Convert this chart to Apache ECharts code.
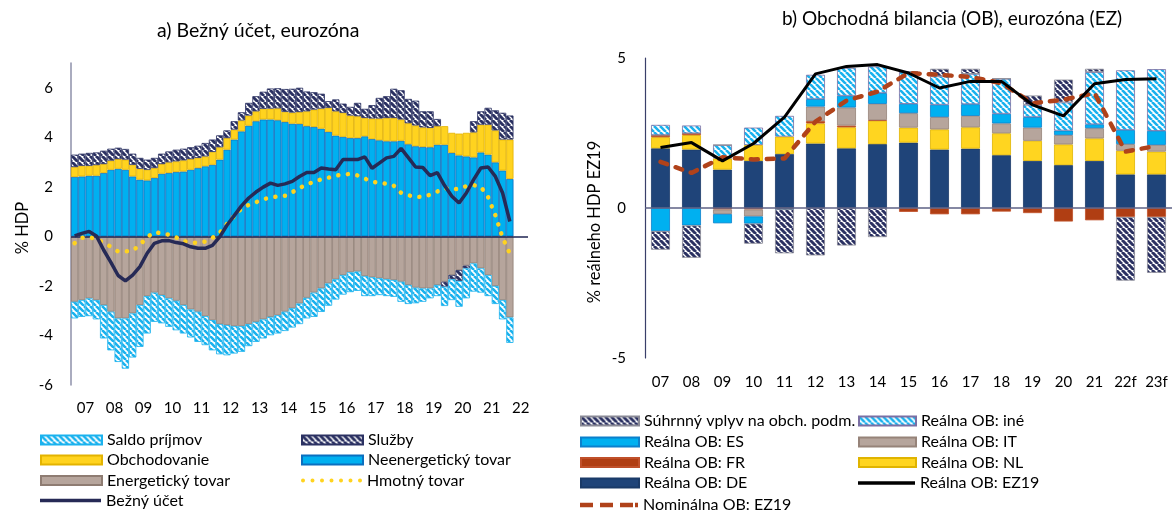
<!DOCTYPE html>
<html>
<head>
<meta charset="utf-8">
<script src="https://cdn.jsdelivr.net/npm/echarts@6/dist/echarts.min.js"></script>
<style>
  html, body { margin: 0; padding: 0; background: #fff; }
  #chart { width: 1172px; height: 510px; }
</style>
</head>
<body>
<div id="chart"></div>
<script>
// a) quarterly data 2007Q1 - 2022Q1, % HDP
const yearLabels = ['07', '08', '09', '10', '11', '12', '13', '14', '15', '16', '17', '18', '19', '20', '21', '22']
const neenerg = [2.40, 2.42, 2.45, 2.45, 2.56, 2.69, 2.73, 2.69, 2.42, 2.29, 2.26, 2.36, 2.53, 2.56, 2.60, 2.62, 2.69, 2.76, 2.83, 2.89,
  3.10, 3.50, 3.91, 4.24, 4.47, 4.65, 4.72, 4.72, 4.69, 4.62, 4.55, 4.54, 4.45, 4.42, 4.35, 4.22, 4.07, 4.02, 3.97, 3.97,
  4.04, 3.93, 3.88, 3.84, 3.84, 3.86, 3.72, 3.64, 3.61, 3.60, 3.70, 3.70, 3.37, 3.27, 3.23, 3.19, 3.39, 3.30, 2.99, 2.66, 2.32]
const obchod = [0.40, 0.43, 0.40, 0.43, 0.36, 0.37, 0.39, 0.41, 0.47, 0.44, 0.43, 0.40, 0.39, 0.43, 0.43, 0.45, 0.43, 0.41, 0.40, 0.52,
  0.50, 0.47, 0.40, 0.44, 0.41, 0.40, 0.43, 0.44, 0.48, 0.41, 0.45, 0.48, 0.60, 0.70, 0.81, 0.97, 0.98, 0.97, 0.91, 0.88,
  0.74, 0.83, 0.88, 0.94, 0.94, 0.86, 0.85, 0.84, 0.79, 0.78, 0.75, 0.75, 0.81, 0.88, 0.95, 1.01, 1.12, 1.21, 1.29, 1.25, 1.59]
const sluzby = [0.50, 0.49, 0.52, 0.51, 0.54, 0.48, 0.46, 0.43, 0.45, 0.44, 0.41, 0.41, 0.42, 0.44, 0.47, 0.47, 0.48, 0.49, 0.54, 0.50,
  0.48, 0.31, 0.34, 0.33, 0.51, 0.61, 0.69, 0.81, 0.81, 0.92, 0.96, 0.98, 0.80, 0.70, 0.60, 0.27, 0.48, 0.37, 0.35, 0.54,
  0.37, 0.54, 0.83, 0.88, 1.18, 1.18, 0.98, 1.00, 0.65, 0.67, 0.29, -0.20, -0.17, -0.44, -0.11, 0.45, 0.54, 0.68, 0.81, 1.08, 0.97]
const energ = [-2.64, -2.57, -2.50, -2.57, -2.77, -3.04, -3.31, -3.31, -3.11, -2.77, -2.41, -2.27, -2.37, -2.50, -2.60, -2.77, -2.95, -3.04, -3.22, -3.38,
  -3.54, -3.58, -3.62, -3.62, -3.54, -3.45, -3.35, -3.25, -3.18, -3.04, -2.90, -2.71, -2.48, -2.27, -2.10, -1.90, -1.73, -1.56, -1.45, -1.42,
  -1.60, -1.65, -1.69, -1.73, -1.76, -1.83, -1.96, -2.07, -2.10, -2.10, -1.96, -1.83, -1.56, -1.36, -1.18, -1.09, -1.29, -1.56, -2.00, -2.57, -3.27]
const saldo = [-0.67, -0.68, -0.72, -0.78, -1.35, -1.56, -1.76, -2.03, -1.78, -1.69, -1.51, -1.18, -1.14, -1.15, -1.19, -1.15, -1.13, -1.22, -1.17, -1.22,
  -1.22, -1.22, -1.11, -1.04, -0.89, -0.81, -0.77, -0.74, -0.74, -0.78, -0.78, -0.83, -0.83, -0.98, -0.95, -0.90, -0.82, -0.79, -0.80, -0.78,
  -0.81, -0.76, -0.68, -0.68, -0.68, -0.81, -0.77, -0.63, -0.54, -0.40, -0.45, -0.78, -0.84, -1.04, -1.21, -1.14, -0.98, -0.85, -0.73, -0.78, -1.03]
const hmotny = [-0.27, -0.06, -0.02, -0.12, -0.25, -0.42, -0.61, -0.61, -0.58, -0.34, -0.03, 0.17, 0.12, 0.07, -0.04, -0.19, -0.25, -0.26, -0.21, -0.06,
  0.15, 0.50, 0.82, 1.12, 1.27, 1.38, 1.50, 1.57, 1.61, 1.64, 1.78, 1.96, 2.08, 2.22, 2.30, 2.37, 2.45, 2.50, 2.52, 2.46,
  2.33, 2.21, 2.16, 2.13, 2.04, 1.76, 1.66, 1.59, 1.60, 1.68, 1.81, 1.94, 1.90, 1.92, 2.03, 2.07, 2.00, 1.58, 0.85, -0.05, -0.70]
const bezny = [0.02, 0.12, 0.20, 0.02, -0.55, -1.05, -1.58, -1.80, -1.56, -1.22, -0.68, -0.28, -0.18, -0.17, -0.25, -0.30, -0.42, -0.48, -0.48, -0.36,
  -0.02, 0.45, 0.84, 1.23, 1.55, 1.79, 1.99, 2.15, 2.06, 2.12, 2.22, 2.42, 2.58, 2.58, 2.76, 2.72, 2.69, 3.10, 3.10, 3.10,
  3.21, 2.75, 2.96, 3.17, 3.23, 3.55, 3.18, 2.80, 2.78, 2.45, 2.57, 2.05, 1.62, 1.35, 1.75, 2.29, 2.76, 2.80, 2.42, 1.75, 0.60]

// b) annual data, % realneho HDP EZ19
const years = ['07', '08', '09', '10', '11', '12', '13', '14', '15', '16', '17', '18', '19', '20', '21', '22f', '23f']
const obDE = [1.99, 1.95, 1.28, 1.57, 1.80, 2.15, 1.99, 2.13, 2.18, 1.95, 1.98, 1.76, 1.57, 1.43, 1.57, 1.12, 1.12]
const obNL = [0.37, 0.48, 0.37, 0.53, 0.58, 0.67, 0.70, 0.78, 0.50, 0.67, 0.71, 0.73, 0.67, 0.69, 0.75, 0.79, 0.76]
const obFR = [0.07, 0.06, -0.05, -0.05, -0.04, 0.08, 0.06, 0.02, -0.13, -0.21, -0.21, -0.12, -0.17, -0.45, -0.41, -0.30, -0.30]
const obIT = [0, 0, -0.15, -0.23, 0, 0.48, 0.60, 0.54, 0.48, 0.41, 0.38, 0.33, 0.44, 0.31, 0.34, 0.22, 0.22]
const obES = [-0.77, -0.58, -0.31, -0.24, 0, 0.25, 0.39, 0.36, 0.31, 0.41, 0.39, 0.32, 0.35, 0.15, 0.13, 0.47, 0.47]
const obIne = [0.34, 0.26, 0.45, 0.58, 0.69, 0.81, 0.93, 0.89, 1.08, 0.95, 1.01, 1.17, 0.41, 0.94, 1.74, 1.99, 2.06]
const suhrnny = [-0.62, -1.08, 0, -0.67, -1.47, -1.58, -1.25, -0.97, 0, 0.25, 0.17, 0, 0.31, 0.76, 0.11, -2.12, -1.86]
const realEZ = [2.02, 2.18, 1.57, 2.15, 3.03, 4.47, 4.72, 4.78, 4.50, 4.00, 4.22, 4.22, 3.44, 3.07, 4.14, 4.28, 4.31]
const nomEZ = [1.54, 1.17, 1.69, 1.62, 1.65, 2.88, 3.58, 3.88, 4.50, 4.44, 4.37, 4.16, 3.49, 3.61, 3.83, 1.88, 2.07]

const FONT = 'Lato'

// quarter categories up to 2022Q3 (last two stay empty)
const quarters = []
yearLabels.forEach(y => { for (let q = 1; q <= 4; q++) quarters.push(y + ' Q' + q) })
quarters.length = 63

function hatch(fg, bg, size, lw) {
  const c = document.createElement('canvas')
  c.width = c.height = size
  const g = c.getContext('2d')
  g.fillStyle = bg
  g.fillRect(0, 0, size, size)
  g.strokeStyle = fg
  g.lineWidth = lw
  g.beginPath()
  for (let o = -size; o <= size; o += size) {
    g.moveTo(o, 0)
    g.lineTo(o + size, size)
  }
  g.stroke()
  return { image: c, repeat: 'repeat' }
}

const navyHatch = hatch('#2b3162', '#ffffff', 6, 3)
const blueHatch = hatch('#1ab2ee', '#ffffff', 6, 2.6)

// legend icon shapes for the dotted and dashed lines
let dots = ''
for (let k = 0; k < 7; k++) {
  const cx = 2 + k * 9.5
  dots += 'M' + (cx - 2) + ',2 a2,2 0 1,0 4,0 a2,2 0 1,0 -4,0 Z '
}
const dotIcon = 'path://' + dots
const dashIcon = 'path://M0,0 h13 v4.5 h-13 Z M20,0 h13 v4.5 h-13 Z M40,0 h13 v4.5 h-13 Z M55,0 h3 v4.5 h-3 Z'

const chart = echarts.init(document.getElementById('chart'))

function bar(name, data, color, border, ax, stack) {
  return {
    name: name, type: 'bar', stack: stack, data: data,
    xAxisIndex: ax, yAxisIndex: ax,
    itemStyle: { color: color, borderColor: border, borderWidth: 0.8 }
  }
}

const zeroLine = (color) => ({
  silent: true, symbol: 'none', label: { show: false },
  lineStyle: { color: color, width: 1.5, type: 'solid' },
  data: [{ yAxis: 0 }]
})

// one legend per entry so both columns line up like the original (legend padding is 5)
function leg(name, x, yc, w, icon, h) {
  return {
    left: x - 5, top: yc - 13, itemWidth: w, itemHeight: h, icon: icon, itemGap: 0,
    data: [name],
    lineStyle: { width: 0, color: 'rgba(0,0,0,0)' },
    textStyle: { fontSize: 16, color: '#000', fontFamily: FONT, lineHeight: 16 }
  }
}

const rowsA = [440, 460, 480.5, 500.5]
const rowsB = [421, 442, 462.5, 483, 505]

chart.setOption({
  animation: false,
  textStyle: { fontFamily: FONT },
  title: [
    { text: 'a) Bežný účet, eurozóna', left: 152, top: 16, textStyle: { fontSize: 19.5, fontWeight: 'normal', color: '#000', fontFamily: FONT } },
    { text: 'b) Obchodná bilancia (OB), eurozóna (EZ)', left: 777, top: 4, textStyle: { fontSize: 19, fontWeight: 'normal', color: '#000', fontFamily: FONT } }
  ],
  legend: [
    leg('Saldo príjmov', 40, rowsA[0], 61, 'rect', 9),
    leg('Obchodovanie', 40, rowsA[1], 61, 'rect', 9),
    leg('Energetický tovar', 40, rowsA[2], 61, 'rect', 9),
    leg('Bežný účet', 40, rowsA[3], 61, 'rect', 3.5),
    leg('Služby', 301, rowsA[0], 61, 'rect', 9),
    leg('Neenergetický tovar', 301, rowsA[1], 61, 'rect', 9),
    leg('Hmotný tovar', 301, rowsA[2], 61, dotIcon, 4),
    leg('Súhrnný vplyv na obch. podm.', 580, rowsB[0], 58, 'rect', 9),
    leg('Reálna OB: ES', 580, rowsB[1], 58, 'rect', 9),
    leg('Reálna OB: FR', 580, rowsB[2], 58, 'rect', 9),
    leg('Reálna OB: DE', 580, rowsB[3], 58, 'rect', 9),
    leg('Nominálna OB: EZ19', 580, rowsB[4], 58, dashIcon, 4.5),
    leg('Reálna OB: iné', 858, rowsB[0], 57, 'rect', 9),
    leg('Reálna OB: IT', 858, rowsB[1], 57, 'rect', 9),
    leg('Reálna OB: NL', 858, rowsB[2], 57, 'rect', 9),
    leg('Reálna OB: EZ19', 858, rowsB[3], 57, 'rect', 3.5)
  ],
  grid: [
    { left: 71, top: 63, width: 457, bottom: 125 },
    { left: 645, top: 58, width: 528, bottom: 152 }
  ],
  xAxis: [
    {
      type: 'category', gridIndex: 0, data: quarters,
      axisLine: { show: false, onZero: false }, axisTick: { show: false },
      axisLabel: {
        interval: (i) => i % 4 === 2, formatter: (v) => v.slice(0, 2),
        fontSize: 15, color: '#000', margin: 16, padding: [0, 7.25, 0, 0]
      }
    },
    {
      type: 'category', gridIndex: 1, data: years,
      axisLine: { show: false, onZero: false }, axisTick: { show: false },
      axisLabel: { interval: 0, fontSize: 15, color: '#000', margin: 17 }
    }
  ],
  yAxis: [
    {
      type: 'value', gridIndex: 0, min: -6, max: 7, interval: 2,
      name: '% HDP', nameLocation: 'middle', nameGap: 40,
      nameTextStyle: { fontSize: 16.5, color: '#000', padding: [0, 8, 0, 0] },
      axisLine: { show: true, lineStyle: { color: '#8e90aa', width: 1.5 } }, axisTick: { show: false },
      splitLine: { show: false },
      axisLabel: { fontSize: 15, color: '#000', margin: 18, showMaxLabel: false }
    },
    {
      type: 'value', gridIndex: 1, min: -5, max: 5, interval: 5,
      name: '% reálneho HDP EZ19', nameLocation: 'middle', nameGap: 42,
      nameTextStyle: { fontSize: 16.5, color: '#000', padding: [0, 28, 0, 0] },
      axisLine: { show: true, lineStyle: { color: '#3a3f6a', width: 1.2 } }, axisTick: { show: false },
      splitLine: { show: false },
      axisLabel: { fontSize: 15, color: '#000', margin: 19 }
    }
  ],
  series: [
    Object.assign(bar('Energetický tovar', energ, '#b6a59c', '#8e7c72', 0, 'a'), { barCategoryGap: '0%', markLine: zeroLine('#1f2452') }),
    bar('Neenergetický tovar', neenerg, '#00b0f0', '#0b6fbf', 0, 'a'),
    bar('Obchodovanie', obchod, '#ffd31f', '#e3b300', 0, 'a'),
    bar('Služby', sluzby, navyHatch, '#2b3162', 0, 'a'),
    bar('Saldo príjmov', saldo, blueHatch, '#1ab2ee', 0, 'a'),
    {
      name: 'Hmotný tovar', type: 'line', data: hmotny, xAxisIndex: 0, yAxisIndex: 0,
      symbol: 'none', z: 5,
      lineStyle: { color: '#ffd31f', width: 4.5, type: [0.1, 9.5], cap: 'round' },
      itemStyle: { color: '#ffd31f' }
    },
    {
      name: 'Bežný účet', type: 'line', data: bezny, xAxisIndex: 0, yAxisIndex: 0,
      symbol: 'none', z: 6,
      lineStyle: { color: '#262a56', width: 3.5 },
      itemStyle: { color: '#262a56' }
    },

    Object.assign(bar('Reálna OB: DE', obDE, '#1f4479', '#1a3a68', 1, 'b'), { barCategoryGap: '39%', markLine: zeroLine('#5c6085') }),
    bar('Reálna OB: NL', obNL, '#ffd520', '#e0b400', 1, 'b'),
    bar('Reálna OB: FR', obFR, '#b03e13', '#c0502a', 1, 'b'),
    bar('Reálna OB: IT', obIT, '#b6a59c', '#968379', 1, 'b'),
    bar('Reálna OB: ES', obES, '#00b0f0', '#0b80cc', 1, 'b'),
    bar('Reálna OB: iné', obIne, blueHatch, '#7a6fa3', 1, 'b'),
    bar('Súhrnný vplyv na obch. podm.', suhrnny, navyHatch, '#8a8a96', 1, 'b'),
    {
      name: 'Reálna OB: EZ19', type: 'line', data: realEZ, xAxisIndex: 1, yAxisIndex: 1,
      symbol: 'none', z: 6,
      lineStyle: { color: '#000', width: 3 },
      itemStyle: { color: '#000' }
    },
    {
      name: 'Nominálna OB: EZ19', type: 'line', data: nomEZ, xAxisIndex: 1, yAxisIndex: 1,
      symbol: 'none', z: 5,
      lineStyle: { color: '#b0421a', width: 4.5, type: [7, 9], cap: 'round' },
      itemStyle: { color: '#b0421a' }
    }
  ]
})
</script>
</body>
</html>
